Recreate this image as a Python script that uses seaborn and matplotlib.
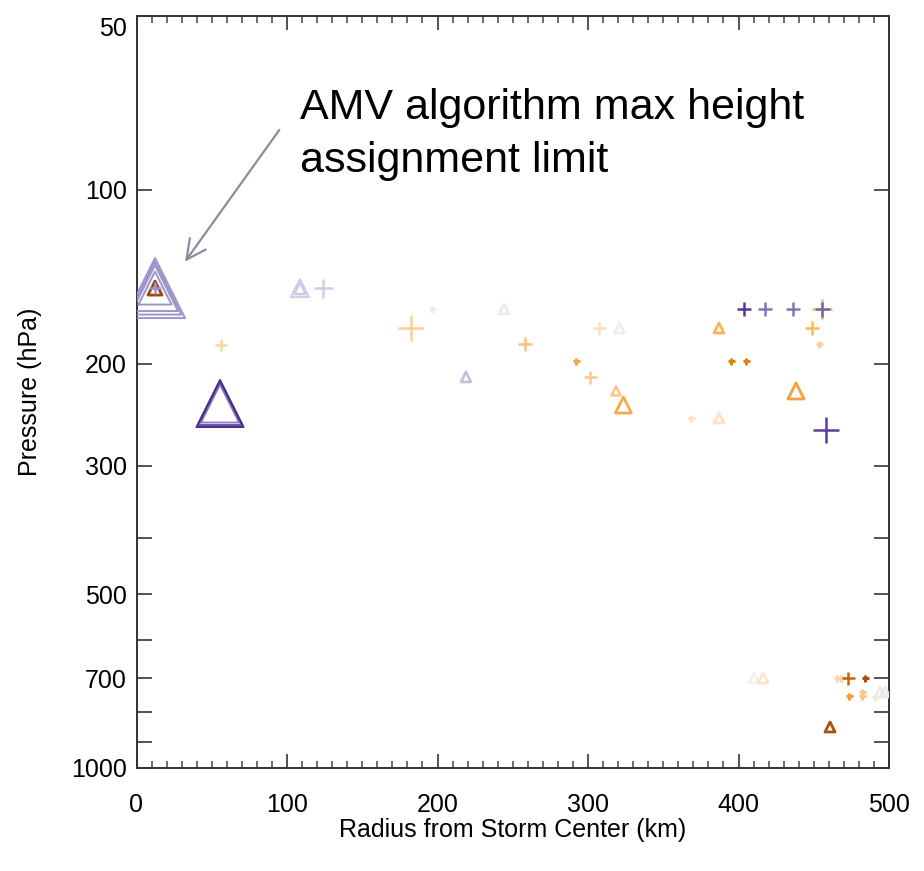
import matplotlib
matplotlib.use("Agg")
import matplotlib.pyplot as plt
import seaborn as sns
import pandas as pd
from matplotlib.ticker import FixedLocator, FixedFormatter, NullFormatter, MultipleLocator

# ---------------- data ----------------
radius_km = [12.3, 12.3, 12.3, 12.3, 12.3, 12.3,
             55.5, 55.5, 55.5, 56.1,
             108.6, 108.6, 123.9,
             196.1, 244.2, 182.4, 258.1, 218.9,
             307.5, 320.8, 292.0, 301.5, 318.6, 323.5,
             403.7, 417.6, 436.2, 455.5, 455.5, 448.8, 453.5,
             387.0, 395.0, 405.0, 438.2, 368.4, 387.0, 458.1,
             410.3, 416.3, 465.4, 468.1, 472.8, 484.1,
             473.4, 482.1, 482.1, 490.7, 494.0, 497.3, 460.8]
pressure_hpa = [147.8, 147.8, 147.8, 147.8, 147.8, 147.8,
                234.1, 234.1, 234.1, 185.4,
                147.8, 147.8, 147.8,
                160.6, 160.6, 173.3, 184.7, 210.6,
                173.3, 173.3, 197.6, 210.6, 222.7, 235.5,
                160.6, 160.6, 160.6, 160.6, 160.6, 173.3, 184.7,
                173.3, 197.6, 197.6, 222.7, 248.0, 248.0, 260.2,
                698.8, 698.8, 698.8, 698.8, 698.8, 698.8,
                750.9, 738.8, 750.9, 754.0, 738.8, 738.8, 849.2]
symbol = ["tri", "tri", "tri", "tri", "tri", "plus",
          "tri", "tri", "tri", "plus",
          "tri", "tri", "plus",
          "plus", "tri", "plus", "plus", "tri",
          "plus", "tri", "plus", "plus", "tri", "tri",
          "plus", "plus", "plus", "plus", "plus", "plus", "plus",
          "tri", "plus", "plus", "tri", "plus", "tri", "plus",
          "tri", "tri", "plus", "plus", "plus", "plus",
          "plus", "plus", "plus", "plus", "tri", "tri", "tri"]
colour = ["#9c95c9", "#9c95c9", "#9c95c9", "#9c95c9", "#9a4a0e", "#9c95c9",
          "#8f86c0", "#6a56a6", "#4b2888", "#fdd6a6",
          "#cfcce6", "#cfcce6", "#d2cfe7",
          "#ececec", "#ececec", "#fdcf96", "#fcc384", "#c5c1df",
          "#fde0bd", "#eeeeee", "#f9a646", "#fdcb8e", "#fdc98b", "#f9a94b",
          "#5a3796", "#8276b6", "#8276b6", "#fdb863", "#7566ad", "#fdb863", "#fdd2a2",
          "#fbb35c", "#e0801a", "#e0801a", "#f5a03c", "#fde4c8", "#fde2c6", "#5e3c99",
          "#f0f0f0", "#fde5c8", "#fdd4a8", "#fdd4a8", "#c4630e", "#a9500c",
          "#f39a3e", "#fdc58a", "#fdc58a", "#fde2c4", "#ebebeb", "#ebebeb", "#a3520c"]
size_px = [60, 53, 46, 33, 14, 12,
           38, 43, 47, 12,
           18, 12, 19,
           7, 10, 27, 14, 10,
           13, 10, 7, 13, 9, 16,
           14, 14, 14, 20, 15, 14, 7,
           10, 7, 7, 16, 7, 10, 27,
           10, 10, 7, 7, 13, 7,
           7, 7, 7, 7, 10, 10, 10]

x_ticks = [0, 100, 200, 300, 400, 500]
y_ticks = [50, 100, 200, 300, 500, 700, 1000]
y_minor = [400, 600, 800, 900]
annotation = "AMV algorithm max height\nassignment limit"

df = pd.DataFrame({"radius": radius_km, "pressure": pressure_hpa,
                   "symbol": symbol, "colour": colour, "size": size_px})

# ---------------- figure ----------------
sns.set_theme(style="white")
plt.rcParams["font.family"] = ["Liberation Sans", "DejaVu Sans"]
for k in ("text.color", "axes.labelcolor", "xtick.labelcolor", "ytick.labelcolor"):
    plt.rcParams[k] = "black"

W, H = 924, 871
fig = plt.figure(figsize=(W / 100, H / 100), dpi=100)
L, R, T, B = 136.5, 889, 16, 768
ax = fig.add_axes([L / W, 1 - B / H, (R - L) / W, (B - T) / H])

px2pt = 72 / 100
for i, row in df.iterrows():
    m = row["size"] * px2pt
    if row["symbol"] == "tri":
        lw = 2.0 if row["size"] <= 16 else 1.4
        sns.scatterplot(x=[row["radius"]], y=[row["pressure"]], marker="^",
                        s=m ** 2, color=row["colour"], facecolor="none",
                        edgecolor=row["colour"], linewidth=lw, ax=ax,
                        legend=False, zorder=3 + i)
    else:
        lw = 2.2 if row["size"] <= 8 else 1.8
        sns.scatterplot(x=[row["radius"]], y=[row["pressure"]], marker="+",
                        s=m ** 2, color=row["colour"], linewidth=lw, ax=ax,
                        legend=False, zorder=3 + i)

ax.set_yscale("log")
ax.set_xlim(0, 500)
ax.set_ylim(1000, 50)

ax.xaxis.set_major_locator(FixedLocator(x_ticks))
ax.xaxis.set_major_formatter(FixedFormatter([str(v) for v in x_ticks]))
ax.xaxis.set_minor_locator(MultipleLocator(10))
ax.yaxis.set_major_locator(FixedLocator(y_ticks))
# the top label (50) is drawn separately, a little below the top edge
ax.yaxis.set_major_formatter(FixedFormatter([""] + [str(v) for v in y_ticks[1:]]))
ax.yaxis.set_minor_locator(FixedLocator(y_minor))
ax.yaxis.set_minor_formatter(NullFormatter())

tick_col = "#444444"
ax.tick_params(axis="y", which="both", direction="in", length=11, width=1.3,
               left=True, right=True, labelsize=18, pad=7, color=tick_col,
               labelcolor="black")
ax.tick_params(axis="x", which="major", direction="in", length=10, width=1.3,
               bottom=True, top=True, labelsize=18, pad=18, color=tick_col,
               labelcolor="black")
ax.tick_params(axis="x", which="minor", direction="in", length=5, width=1.1,
               bottom=True, top=True, color=tick_col)
for s in ax.spines.values():
    s.set_linewidth(1.4)
    s.set_color("#333333")
    s.set_visible(True)

ax.annotate(str(y_ticks[0]), xy=(0, y_ticks[0]), xycoords=("axes fraction", "data"),
            xytext=(-7 * 100 / 72, -11), textcoords="offset pixels",
            ha="right", va="center_baseline", fontsize=18, color="black")

ax.set_xlabel("Radius from Storm Center (km)", fontsize=18, color="black")
ax.set_ylabel("Pressure (hPa)", fontsize=18, color="black")
ax.xaxis.set_label_coords(0.5, (B - 818) / (B - T))
ax.yaxis.set_label_coords((42 - L) / (R - L), 0.5)

fig.text(300 / W, 1 - 88 / H, annotation, fontsize=31, ha="left", va="top",
         color="black", linespacing=1.42)
ax.annotate("", xy=(185, H - 261.7), xycoords="figure pixels",
            xytext=(279.3, H - 130), textcoords="figure pixels",
            arrowprops=dict(arrowstyle="->,head_length=0.7,head_width=0.35",
                            color="#868f9c", lw=1.6, mutation_scale=20,
                            shrinkA=0, shrinkB=0))

fig.savefig("out.png", dpi=100)
